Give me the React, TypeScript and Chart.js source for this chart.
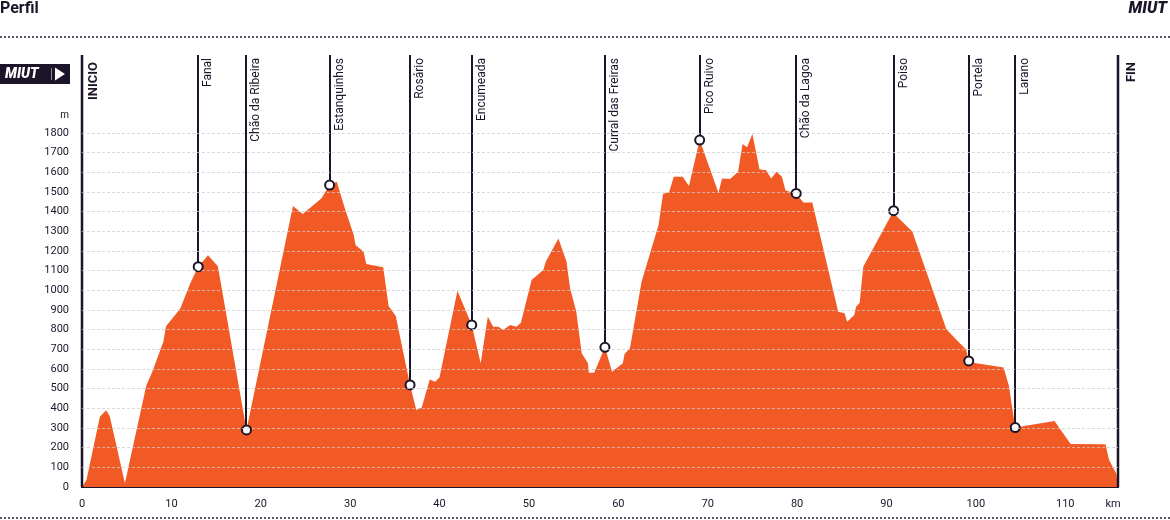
import React, { useEffect, useRef } from "react";
import { Chart, registerables } from "chart.js";

Chart.register(...registerables);

// ---- Data ----
const titleText = "Perfil";
const brandText = "MIUT";
const startLabel = "INICIO";
const endLabel = "FIN";
const yUnit = "m";
const xUnit = "km";

const distanceKm = [
  0.0, 0.15, 0.5, 2.0, 2.7, 3.1, 4.8, 7.2, 7.8, 9.1, 9.4, 11.0, 12.1, 13.0, 14.1, 15.2,
  18.4, 23.6, 24.7, 26.8, 27.7, 28.5, 29.4, 30.4, 30.6, 31.5, 31.8, 33.7, 34.3, 35.1,
  36.7, 37.4, 38.0, 38.9, 39.5, 40.0, 42.0, 43.6, 44.6, 45.4, 46.0, 46.6, 47.1, 47.9,
  48.6, 49.1, 50.3, 51.6, 51.9, 53.3, 54.2, 54.6, 55.3, 55.9, 56.6, 56.7, 57.3, 58.5,
  59.3, 60.5, 60.7, 61.3, 62.6, 64.5, 65.0, 65.7, 66.2, 67.2, 67.9, 69.1, 71.2, 71.6,
  72.5, 73.4, 73.9, 74.4, 75.0, 75.8, 76.5, 77.1, 77.7, 78.3, 78.7, 79.9, 80.7, 81.7,
  84.6, 85.3, 85.6, 86.4, 86.6, 87.0, 87.4, 90.8, 91.0, 92.9, 96.7, 98.2, 98.9, 99.2,
  99.7, 103.1, 103.7, 104.4, 108.8, 110.6, 114.5, 114.9, 115.7, 115.9,
];
const elevationM = [
  0, 10, 35, 357, 390, 361, 19, 518, 578, 739, 818, 908, 1035, 1120, 1178, 1123,
  290, 1429, 1388, 1468, 1535, 1552, 1417, 1281, 1230, 1196, 1134, 1117, 920, 869,
  519, 391, 403, 547, 535, 558, 998, 824, 629, 866, 815, 815, 798, 824,
  815, 835, 1052, 1103, 1146, 1264, 1146, 1010, 891, 680, 629, 581, 581, 710,
  586, 629, 676, 705, 1044, 1332, 1490, 1501, 1578, 1578, 1530, 1764, 1496, 1569,
  1566, 1603, 1744, 1727, 1795, 1615, 1612, 1569, 1603, 1578, 1507, 1493, 1446, 1446,
  891, 883, 840, 875, 917, 937, 1120, 1405, 1383, 1298, 802, 731, 700, 641,
  632, 607, 513, 302, 336, 219, 217, 137, 70, 0,
];

const waypointNames = [
  "Fanal", "Chão da Ribeira", "Estanquinhos", "Rosário", "Encumeada",
  "Curral das Freiras", "Pico Ruivo", "Chão da Lagoa", "Poiso", "Portela", "Larano",
];
const waypointKm = [13.0, 18.4, 27.7, 36.7, 43.6, 58.5, 69.1, 79.9, 90.8, 99.2, 104.4];
const waypointElev = [1120, 290, 1535, 519, 824, 710, 1764, 1493, 1405, 641, 302];

const yMin = 0;
const yMax = 1800;
const yStep = 100;
const xMin = 0;
const xMax = 115.9;
const xStep = 10;

// ---- Styles ----
const DARK = "#1c1429";
const ORANGE = "#f15a24";
const FONT = "Roboto, 'Noto Sans', sans-serif";
const W = 1170;
const H = 520;

const decorPlugin = {
  id: "decor",
  beforeDraw(chart: any) {
    const ctx = chart.ctx;
    ctx.save();
    ctx.fillStyle = "#ffffff";
    ctx.fillRect(0, 0, chart.width, chart.height);
    // Title
    ctx.fillStyle = DARK;
    ctx.font = `bold 16px ${FONT}`;
    ctx.textBaseline = "top";
    ctx.textAlign = "left";
    ctx.fillText(titleText, 0, 1);
    ctx.font = `italic 900 16px ${FONT}`;
    ctx.textAlign = "right";
    ctx.fillText(brandText, 1167, 1);
    // dotted lines
    ctx.strokeStyle = "#5a5566";
    ctx.lineWidth = 2;
    ctx.setLineDash([2, 2]);
    ctx.beginPath();
    ctx.moveTo(0, 37);
    ctx.lineTo(W, 37);
    ctx.moveTo(0, 518);
    ctx.lineTo(W, 518);
    ctx.stroke();
    ctx.setLineDash([]);
    // Badge
    ctx.fillStyle = DARK;
    ctx.fillRect(0, 64, 70, 20);
    ctx.fillStyle = "#ffffff";
    ctx.font = `italic 900 14px ${FONT}`;
    ctx.textAlign = "left";
    ctx.textBaseline = "middle";
    ctx.fillText(brandText, 5, 74.5);
    ctx.strokeStyle = "#8a8496";
    ctx.lineWidth = 1;
    ctx.beginPath();
    ctx.moveTo(51.5, 68);
    ctx.lineTo(51.5, 80);
    ctx.stroke();
    ctx.beginPath();
    ctx.moveTo(55, 67.5);
    ctx.lineTo(65, 74);
    ctx.lineTo(55, 80.5);
    ctx.closePath();
    ctx.fill();
    // units
    ctx.fillStyle = DARK;
    ctx.font = `10px ${FONT}`;
    ctx.textAlign = "right";
    ctx.textBaseline = "middle";
    ctx.fillText(yUnit, 69, 115);
    ctx.textAlign = "center";
    ctx.font = `11px ${FONT}`;
    ctx.fillText(xUnit, 1113, 504);
    ctx.restore();
  },
  afterDatasetDraw(chart: any, args: any) {
    if (args.index !== 1) return;
    const ctx = chart.ctx;
    const xs = chart.scales.x;
    const ys = chart.scales.y;
    const area = chart.chartArea;
    ctx.save();
    ctx.strokeStyle = DARK;
    ctx.fillStyle = DARK;
    // start / end lines
    ctx.lineWidth = 2.5;
    ctx.beginPath();
    ctx.moveTo(area.left, 55);
    ctx.lineTo(area.left, area.bottom);
    ctx.moveTo(xs.getPixelForValue(xMax), 55);
    ctx.lineTo(xs.getPixelForValue(xMax), area.bottom);
    ctx.stroke();
    ctx.font = `bold 13px ${FONT}`;
    ctx.textBaseline = "top";
    ctx.textAlign = "right";
    const drawRot = (text: string, x: number, y: number) => {
      ctx.save();
      ctx.translate(x, y);
      ctx.rotate(-Math.PI / 2);
      ctx.fillText(text, 0, 0);
      ctx.restore();
    };
    drawRot(startLabel, area.left + 5, 62);
    drawRot(endLabel, xs.getPixelForValue(xMax) + 7, 62);
    // waypoint lines
    ctx.lineWidth = 2;
    ctx.font = `12px ${FONT}`;
    for (let i = 0; i < waypointNames.length; i++) {
      const px = Math.round(xs.getPixelForValue(waypointKm[i]));
      const py = ys.getPixelForValue(waypointElev[i]);
      ctx.beginPath();
      ctx.moveTo(px, 55);
      ctx.lineTo(px, py);
      ctx.stroke();
      drawRot(waypointNames[i], px + 4, 58);
    }
    ctx.restore();
  },
};

export default function App() {
  const ref = useRef<HTMLCanvasElement | null>(null);
  useEffect(() => {
    if (!ref.current) return;
    const profile = distanceKm.map((d, i) => ({ x: d, y: elevationM[i] }));
    const markers = waypointKm.map((d, i) => ({ x: d, y: waypointElev[i] }));
    const chart = new Chart(ref.current, {
      type: "line",
      data: {
        datasets: [
          {
            label: "waypoints",
            data: markers,
            showLine: false,
            pointRadius: 4.5,
            pointBackgroundColor: "#ffffff",
            pointBorderColor: DARK,
            pointBorderWidth: 2,
            order: 0,
          } as any,
          {
            label: "profile",
            data: profile,
            fill: "origin",
            backgroundColor: ORANGE,
            borderWidth: 0,
            borderColor: ORANGE,
            pointRadius: 0,
            tension: 0,
            order: 1,
          } as any,
        ],
      },
      options: {
        responsive: false,
        animation: false,
        devicePixelRatio: 1,
        layout: { padding: { left: 0, right: 52, top: 133, bottom: 0 } },
        plugins: {
          legend: { display: false },
          tooltip: { enabled: false },
          title: { display: false },
        },
        scales: {
          x: {
            type: "linear",
            min: xMin,
            max: xMax,
            afterFit: (s: any) => {
              s.height = 33;
            },
            grid: { display: false, drawTicks: false },
            border: { display: true, color: DARK, width: 2 },
            ticks: {
              stepSize: xStep,
              includeBounds: false,
              padding: 11,
              color: DARK,
              font: { family: FONT, size: 11 },
              maxRotation: 0,
              autoSkip: false,
              callback: (v: any) => String(v),
            },
          },
          y: {
            type: "linear",
            min: yMin,
            max: yMax,
            afterFit: (s: any) => {
              s.width = 82;
            },
            grid: {
              z: 1,
              drawTicks: false,
              color: (c: any) => (c.tick && c.tick.value === 0 ? "rgba(0,0,0,0)" : "rgba(205,205,205,0.75)"),
              lineWidth: 1,
            },
            border: { display: false, dash: [3, 2] },
            ticks: {
              stepSize: yStep,
              padding: 13,
              color: DARK,
              font: { family: FONT, size: 11 },
              callback: (v: any) => String(v),
            },
          } as any,
        },
      } as any,
      plugins: [decorPlugin],
    });
    return () => chart.destroy();
  }, []);
  return (
    <div style={{ position: "fixed", left: 0, top: 0, width: W, height: H, background: "#fff" }}>
      <canvas ref={ref} width={W} height={H} style={{ display: "block", width: W, height: H }} />
    </div>
  );
}
